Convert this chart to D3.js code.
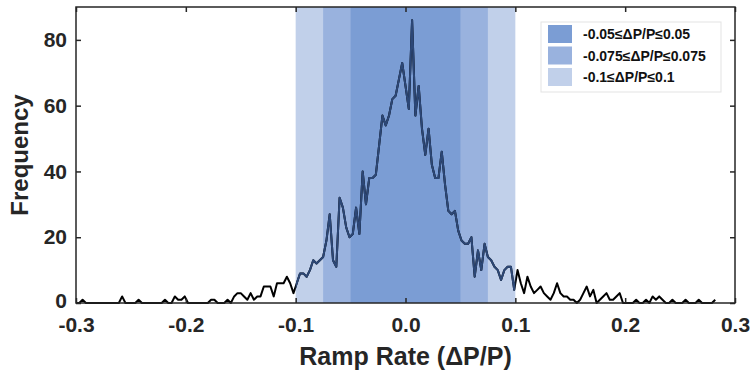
<!DOCTYPE html>
<html>
<head>
<meta charset="utf-8">
<script src="https://cdn.jsdelivr.net/npm/d3@7"></script>
<style>
  html, body { margin: 0; padding: 0; background: #fff; }
  svg { display: block; font-family: "Liberation Sans", Arial, sans-serif; }
</style>
</head>
<body>
<svg id="chart" width="750" height="379"></svg>
<script>
// histogram bins: first bin centre and bin width
const binStart = -0.3;
const binWidth = 0.003;

// frequency per bin
const frequency = [
  0, 0, 1, 0, 0, 0, 0, 0, 0, 0, 0, 0, 0, 0, 2, 0, 0, 0, 0, 1,
  0, 0, 0, 0, 0, 0, 0, 1, 0, 0, 2, 1, 1, 2, 0, 0, 0, 0, 0, 0,
  0, 1, 1, 0, 0, 0, 1, 0, 2, 3, 3, 2, 1, 3, 1, 2, 2, 5, 5, 5,
  2, 6, 6, 6, 8, 6, 3, 6, 9, 9, 8, 10, 13, 12, 13, 14, 19, 27, 13, 11,
  32, 29, 23, 20, 21, 29, 21, 40, 30, 38, 38, 39, 48, 57, 54, 57, 62, 63, 68, 73,
  66, 59, 86, 57, 66, 53, 45, 53, 42, 38, 38, 46, 36, 28, 27, 28, 22, 19, 18, 18,
  20, 8, 16, 10, 18, 14, 13, 11, 10, 7, 10, 11, 11, 4, 10, 6, 3, 8, 5, 3,
  4, 5, 3, 2, 1, 3, 6, 3, 2, 2, 1, 1, 0, 1, 3, 5, 2, 4, 0, 1,
  2, 3, 1, 1, 2, 3, 0, 0, 0, 0, 1, 0, 0, 1, 0, 2, 1, 2, 1, 0,
  0, 1, 0, 0, 0, 1, 0, 0, 0, 1, 0, 0, 0, 0, 1
];

// shaded ranges (widest first so narrower ones sit on top)
const bandLabels = ['-0.1≤ΔP/P≤0.1', '-0.075≤ΔP/P≤0.075', '-0.05≤ΔP/P≤0.05'];
const bandLimits = [0.1, 0.075, 0.05];
const bandColors = ['#c1d0ea', '#99b2de', '#7b9dd4'];

const xTicks = [-0.3, -0.2, -0.1, 0.0, 0.1, 0.2, 0.3];
const yTicks = [0, 20, 40, 60, 80];

const svg = d3.select('#chart');
const width = +svg.attr('width');
const height = +svg.attr('height');
const margin = { top: 7, right: 15, bottom: 76, left: 76 };
const axisColor = '#262626';

const xScale = d3.scaleLinear()
    .domain([-0.3, 0.3])
    .range([margin.left, width - margin.right]);

const yScale = d3.scaleLinear()
    .domain([0, 90])
    .range([height - margin.bottom, margin.top]);

const points = frequency.map((f, i) => ({ x: binStart + i * binWidth, y: f }));

// Shaded bands
svg.append('g')
    .selectAll('rect')
    .data(bandLimits)
    .enter()
    .append('rect')
    .attr('x', d => xScale(-d))
    .attr('y', margin.top)
    .attr('width', d => xScale(d) - xScale(-d))
    .attr('height', yScale(0) - margin.top)
    .attr('fill', (d, i) => bandColors[i]);

const line = d3.line()
    .x(d => xScale(d.x))
    .y(d => yScale(d.y));

// clip for the part of the line inside the bands
svg.append('defs')
    .append('clipPath')
    .attr('id', 'band-clip')
    .append('rect')
    .attr('x', xScale(-0.1))
    .attr('y', 0)
    .attr('width', xScale(0.1) - xScale(-0.1))
    .attr('height', height);

svg.append('path')
    .datum(points)
    .attr('d', line)
    .attr('fill', 'none')
    .attr('stroke', '#000')
    .attr('stroke-width', 2)
    .attr('stroke-linejoin', 'round');

svg.append('path')
    .datum(points)
    .attr('d', line)
    .attr('fill', 'none')
    .attr('stroke', '#2c4776')
    .attr('stroke-width', 2)
    .attr('stroke-linejoin', 'round')
    .attr('clip-path', 'url(#band-clip)');

// Axes (ticks pointing inward)
const xAxis = svg.append('g')
    .attr('transform', `translate(0,${yScale(0)})`)
    .call(d3.axisBottom(xScale).tickValues(xTicks).tickFormat(d => d.toFixed(1))
        .tickSizeInner(-5).tickSizeOuter(0).tickPadding(14));

const xTop = svg.append('g')
    .attr('transform', `translate(0,${margin.top})`)
    .call(d3.axisTop(xScale).tickValues(xTicks).tickFormat('')
        .tickSizeInner(-5).tickSizeOuter(0));

const yAxis = svg.append('g')
    .attr('transform', `translate(${margin.left},0)`)
    .call(d3.axisLeft(yScale).tickValues(yTicks).tickFormat(d3.format('d'))
        .tickSizeInner(-5).tickSizeOuter(0).tickPadding(9));

const yRight = svg.append('g')
    .attr('transform', `translate(${width - margin.right},0)`)
    .call(d3.axisRight(yScale).tickValues(yTicks).tickFormat('')
        .tickSizeInner(-5).tickSizeOuter(0));

[xAxis, xTop, yAxis, yRight].forEach(g => {
    g.select('.domain').remove();
    g.selectAll('line').attr('stroke', axisColor).attr('stroke-width', 1.5);
    g.selectAll('text')
        .attr('fill', axisColor)
        .attr('font-size', 21)
        .attr('font-weight', 'bold')
        .attr('font-family', '"Liberation Sans", Arial, sans-serif');
});

// lift the "0" label a touch so it clears the x tick labels
yAxis.selectAll('.tick text').attr('dy', d => d === 0 ? '0.2em' : '0.32em');

// frame
svg.append('rect')
    .attr('x', margin.left)
    .attr('y', margin.top)
    .attr('width', width - margin.right - margin.left)
    .attr('height', yScale(0) - margin.top)
    .attr('fill', 'none')
    .attr('stroke', axisColor)
    .attr('stroke-width', 1.5);

// Axis labels
svg.append('text')
    .attr('x', xScale(0))
    .attr('y', 365)
    .attr('text-anchor', 'middle')
    .attr('font-size', 25)
    .attr('font-weight', 'bold')
    .attr('fill', axisColor)
    .text('Ramp Rate (ΔP/P)');

svg.append('text')
    .attr('transform', `translate(28,${(margin.top + yScale(0)) / 2}) rotate(-90)`)
    .attr('text-anchor', 'middle')
    .attr('font-size', 24)
    .attr('font-weight', 'bold')
    .attr('fill', axisColor)
    .text('Frequency');

// Legend (narrowest band on top)
const legend = svg.append('g').attr('transform', 'translate(541,22)');

legend.append('rect')
    .attr('width', 180)
    .attr('height', 70)
    .attr('fill', '#fff')
    .attr('stroke', '#e3e3e3')
    .attr('stroke-width', 1);

const legendItems = legend.selectAll('g.item')
    .data(d3.range(bandLabels.length).reverse())
    .enter()
    .append('g')
    .attr('class', 'item')
    .attr('transform', (d, i) => `translate(7,${3 + i * 21.5})`);

legendItems.append('rect')
    .attr('width', 24)
    .attr('height', 18)
    .attr('fill', d => bandColors[d]);

legendItems.append('text')
    .attr('x', 35)
    .attr('y', 14)
    .attr('font-size', 14)
    .attr('font-weight', 'bold')
    .attr('fill', '#111')
    .text(d => bandLabels[d]);
</script>
</body>
</html>
